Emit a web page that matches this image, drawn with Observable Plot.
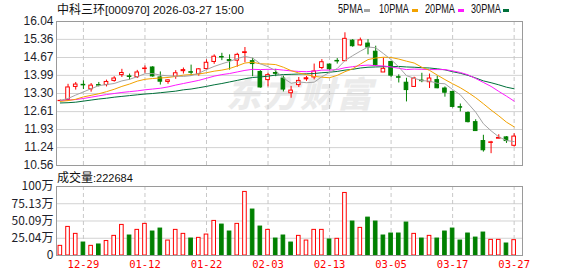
<!DOCTYPE html>
<html>
<head>
<meta charset="utf-8">
<script src="https://cdn.jsdelivr.net/npm/d3@7"></script>
<script src="https://cdn.jsdelivr.net/npm/@observablehq/plot@0.6"></script>
<style>
html, body { margin: 0; padding: 0; background: #fff; }
#wrap { position: relative; width: 578px; height: 276px; overflow: hidden; background: #fff;
  font-family: "Noto Sans CJK SC", "Liberation Sans", sans-serif; color: #111; }
.abs { position: absolute; white-space: nowrap; }
#title { left: 57px; top: 2px; font-size: 12px; line-height: 14px; }
#title .asc { font-family: "Liberation Sans", sans-serif; font-size: 11.5px; }
.leg { top: 2px; font-family: "Liberation Sans", sans-serif; font-size: 12px; line-height: 14px;
  transform: scaleX(0.76); transform-origin: 0 0; color: #111; }
.sw { top: 9px; width: 6px; height: 3px; }
#volLabel { left: 57px; top: 170px; font-size: 12px; line-height: 14px; }
#volLabel .asc { font-family: "Liberation Sans", sans-serif; font-size: 11px; }
#watermark { left: 226px; top: 72px; font-size: 35px; font-weight: 900; color: #ebebeb;
  font-style: italic; letter-spacing: 2px; line-height: 40px; }
#price, #vol { position: absolute; left: 0; }
#price { top: 0; }
#vol { top: 170px; }
</style>
</head>
<body>
<div id="wrap">
  <div id="watermark" class="abs">东方财富</div>
  <div id="price"></div>
  <div id="vol"></div>
  <div id="title" class="abs">中科三环<span class="asc">[000970] 2026-03-27 15:00</span></div>
  <div id="legend"></div>
  <div id="volLabel" class="abs">成交量<span class="asc">:222684</span></div>
</div>
<script>
// ---- data ----
const dates = ["12-24","12-25","12-26","12-29","12-30","12-31","01-05","01-06","01-07","01-08",
  "01-09","01-12","01-13","01-14","01-15","01-16","01-19","01-20","01-21","01-22",
  "01-23","01-26","01-27","01-28","01-29","01-30","02-02","02-03","02-04","02-05",
  "02-06","02-09","02-10","02-11","02-12","02-13","02-24","02-25","02-26","02-27",
  "03-02","03-03","03-04","03-05","03-06","03-09","03-10","03-11","03-12","03-13",
  "03-16","03-17","03-18","03-19","03-20","03-23","03-24","03-25","03-26","03-27"];

const open = [13.01,13.05,13.55,13.63,13.46,13.62,13.62,13.78,14.00,13.95,
  13.92,14.23,14.29,13.91,13.74,13.94,14.15,14.11,14.04,14.23,
  14.50,14.69,14.57,14.55,14.84,14.53,14.12,13.81,14.08,13.87,
  13.31,13.62,13.84,13.91,14.27,14.40,14.54,14.53,15.31,15.13,
  15.20,14.89,14.10,14.50,13.92,13.71,13.55,13.79,13.73,13.81,
  13.49,13.36,12.78,12.56,12.21,11.49,11.42,11.58,11.63,11.31];
const high = [13.05,13.65,13.72,13.78,13.68,13.72,13.81,13.94,14.22,14.04,
  14.18,14.35,14.32,14.12,13.82,14.17,14.27,14.38,14.25,14.58,
  14.77,14.83,14.77,14.83,15.05,14.64,14.17,14.07,14.22,13.96,
  13.57,13.91,13.95,14.42,14.59,14.42,14.63,15.61,15.35,15.41,
  15.35,15.10,14.65,14.53,14.01,13.88,13.92,14.07,14.04,13.96,
  13.55,13.39,12.90,12.60,12.30,11.71,11.48,11.73,11.66,11.77];
const low = [12.99,13.02,13.43,13.45,13.35,13.55,13.55,13.73,13.91,13.81,
  13.87,14.07,13.92,13.62,13.65,13.84,14.04,13.96,13.96,14.19,
  14.41,14.55,14.19,14.30,14.47,13.94,13.50,13.55,13.94,13.36,
  13.12,13.53,13.76,13.82,14.21,14.17,14.42,14.52,15.06,15.10,
  14.77,14.34,14.10,13.91,13.70,12.98,13.55,13.71,13.49,13.48,
  13.16,12.75,12.60,12.18,11.87,11.07,11.01,11.58,11.40,11.26];
const close = [13.02,13.53,13.64,13.61,13.60,13.60,13.74,13.87,14.08,13.93,
  14.10,14.25,13.95,13.75,13.80,14.07,14.19,14.09,14.22,14.47,
  14.70,14.67,14.54,14.77,14.87,14.42,13.53,14.00,14.05,13.45,
  13.41,13.78,13.88,14.14,14.49,14.22,14.52,15.38,15.10,15.32,
  15.05,14.37,14.24,13.98,13.90,13.43,13.87,13.77,13.87,13.50,
  13.33,12.79,12.76,12.21,11.87,11.14,11.44,11.61,11.49,11.66];

// volume in 万 shares, and its colour (1 = red/up, 0 = green/down)
const volume = [14.0,41.5,31.4,18.8,14.0,16.0,21.0,28.5,44.4,29.0,
  37.2,45.9,34.8,39.1,21.7,37.2,31.4,24.6,25.6,30.4,
  50.2,44.9,34.8,45.9,92.3,66.7,42.0,37.2,24.6,29.0,
  18.8,28.5,21.7,37.2,37.2,23.2,24.2,90.8,49.3,40.1,
  55.0,49.3,29.0,31.9,31.9,47.8,31.4,24.6,28.5,24.6,
  34.8,39.1,21.7,31.9,26.0,33.3,22.7,22.7,17.4,22.27];
const volUp = [1,1,1,0,1,0,1,1,1,0, 1,1,0,0,1,1,1,0,1,1,
  1,0,0,1,1,0,0,1,0,0, 0,1,1,1,1,0,1,1,0,1,
  0,0,0,0,0,0,1,0,1,0, 0,0,0,0,0,0,1,1,0,1];

const ma5 = [13.04,13.11,13.24,13.36,13.48,13.60,13.64,13.68,13.78,13.84,
  13.94,14.05,14.06,14.00,13.97,13.96,13.95,13.98,14.07,14.21,
  14.33,14.43,14.52,14.63,14.71,14.65,14.43,14.32,14.17,13.89,
  13.69,13.74,13.71,13.73,13.94,14.10,14.25,14.55,14.74,14.91,
  15.07,15.04,14.82,14.59,14.31,13.98,13.88,13.79,13.77,13.69,
  13.67,13.45,13.25,12.92,12.59,12.15,11.88,11.65,11.51,11.47];
const ma10 = [13.00,13.03,13.08,13.17,13.23,13.29,13.37,13.46,13.57,13.66,
  13.77,13.84,13.87,13.89,13.91,13.95,14.00,14.02,14.04,14.09,
  14.15,14.19,14.25,14.35,14.46,14.49,14.43,14.42,14.40,14.30,
  14.17,14.08,14.02,13.95,13.92,13.90,13.99,14.13,14.24,14.42,
  14.59,14.65,14.68,14.67,14.61,14.53,14.46,14.30,14.18,14.00,
  13.83,13.67,13.52,13.34,13.14,12.91,12.67,12.45,12.21,12.03];
const ma20 = [13.03,13.05,13.07,13.11,13.16,13.21,13.26,13.30,13.34,13.37,
  13.40,13.44,13.47,13.50,13.55,13.62,13.68,13.74,13.80,13.88,
  13.96,14.02,14.06,14.12,14.18,14.22,14.21,14.22,14.22,14.19,
  14.16,14.14,14.13,14.15,14.19,14.19,14.21,14.28,14.32,14.36,
  14.38,14.36,14.35,14.31,14.26,14.21,14.23,14.22,14.21,14.21,
  14.21,14.16,14.10,14.01,13.87,13.72,13.57,13.38,13.20,13.01];
const ma30 = [12.94,12.95,12.97,13.01,13.05,13.09,13.12,13.16,13.19,13.22,
  13.25,13.28,13.30,13.33,13.36,13.39,13.44,13.47,13.52,13.57,
  13.63,13.68,13.74,13.80,13.86,13.91,13.93,13.96,14.00,14.02,
  14.03,14.04,14.05,14.06,14.09,14.11,14.14,14.19,14.22,14.27,
  14.30,14.31,14.32,14.32,14.33,14.31,14.30,14.28,14.27,14.24,
  14.20,14.13,14.07,13.99,13.89,13.78,13.71,13.63,13.54,13.48];

const priceTicks = [16.04, 15.36, 14.67, 13.99, 13.30, 12.61, 11.93, 11.24, 10.56];
const volTicks = [0, 25.04, 50.09, 75.13, 100.17];
const volTickLabels = ["0", "25.04万", "50.09万", "75.13万", "100万"];
const dateTicks = ["12-29","01-12","01-22","02-03","02-13","03-05","03-17","03-27"];

const maNames = ["5PMA", "10PMA", "20PMA", "30PMA"];
const maColors = ["#a3a3a3", "#f2a200", "#ff1aff", "#00703a"];

// ---- build ----
const RED = "#ff0000", GREEN = "#008000";
const bars = dates.map((d, i) => ({
  date: d, open: open[i], high: high[i], low: low[i], close: close[i],
  vol: volume[i], volUp: volUp[i] === 1,
  ma5: ma5[i], ma10: ma10[i], ma20: ma20[i], ma30: ma30[i]
}));
const upBars = bars.filter(d => d.close >= d.open);
const downBars = bars.filter(d => d.close < d.open);

const xOpts = () => ({type: "band", domain: dates, range: [56, 517.5],
  paddingInner: 0.4, paddingOuter: 0.2, align: 0.5, round: false});
const font = "Liberation Sans, Arial, sans-serif";

const price = Plot.plot({
  width: 578, height: 175,
  marginTop: 21, marginBottom: 10, marginLeft: 56, marginRight: 56,
  style: {background: "transparent", fontFamily: font, overflow: "visible"},
  x: {...xOpts(), axis: null},
  y: {domain: [10.56, 16.04]},
  marks: [
    Plot.ruleY(priceTicks, {stroke: "#d2d2d2"}),
    Plot.ruleX(dateTicks, {stroke: "#c8c8c8", strokeDasharray: "4,3"}),
    Plot.ruleX(upBars, {x: "date", y1: "low", y2: "high", stroke: RED}),
    Plot.ruleX(downBars, {x: "date", y1: "low", y2: "high", stroke: GREEN}),
    Plot.barY(upBars, {x: "date", y1: "open", y2: "close", fill: "white", stroke: RED, insetLeft: 0.5, insetRight: 0.5}),
    Plot.barY(downBars, {x: "date", y1: "open", y2: "close", fill: GREEN, stroke: GREEN, insetLeft: 0.5, insetRight: 0.5}),
    Plot.line(bars, {x: "date", y: "ma30", stroke: maColors[3], strokeWidth: 1}),
    Plot.line(bars, {x: "date", y: "ma20", stroke: maColors[2], strokeWidth: 1}),
    Plot.line(bars, {x: "date", y: "ma10", stroke: maColors[1], strokeWidth: 1}),
    Plot.line(bars, {x: "date", y: "ma5", stroke: maColors[0], strokeWidth: 1}),
    Plot.frame({stroke: "#9a9a9a"}),
    Plot.axisY(priceTicks, {anchor: "left", tickSize: 0, tickPadding: 3, label: null,
      tickFormat: d => d.toFixed(2), fontSize: 12, fill: "#1e1e2a"})
  ]
});
document.getElementById("price").appendChild(price);

const vol = Plot.plot({
  width: 578, height: 106,
  marginTop: 16, marginBottom: 21, marginLeft: 56, marginRight: 56,
  style: {background: "transparent", fontFamily: font, overflow: "visible"},
  x: xOpts(),
  y: {domain: [0, 100.17]},
  marks: [
    Plot.ruleY(volTicks, {stroke: "#d2d2d2"}),
    Plot.ruleX(dateTicks, {stroke: "#c8c8c8", strokeDasharray: "4,3"}),
    Plot.barY(bars.filter(d => d.volUp), {x: "date", y: "vol", fill: "white", stroke: RED, insetLeft: 0.5, insetRight: 0.5}),
    Plot.barY(bars.filter(d => !d.volUp), {x: "date", y: "vol", fill: GREEN, stroke: GREEN, insetLeft: 0.5, insetRight: 0.5}),
    Plot.frame({stroke: "#9a9a9a"}),
    Plot.axisY(volTicks, {anchor: "left", tickSize: 0, tickPadding: 3, label: null,
      tickFormat: d => volTickLabels[volTicks.indexOf(d)], fontSize: 12, fill: "#1e1e2a",
      fontFamily: "Noto Sans CJK SC, Liberation Sans, sans-serif"}),
    Plot.axisX(dateTicks, {anchor: "bottom", tickSize: 0, tickPadding: 5, label: null,
      fontSize: 10.5, fill: RED, fontFamily: "DejaVu Sans Mono, monospace"})
  ]
});
document.getElementById("vol").appendChild(vol);

// legend
const legend = document.getElementById("legend");
const legX = [337.5, 378.7, 424.6, 470.6];
const swX = [364, 411.8, 457.7, 503];
maNames.forEach((name, i) => {
  const t = document.createElement("div");
  t.className = "abs leg";
  t.style.left = legX[i] + "px";
  t.textContent = name;
  legend.appendChild(t);
  const s = document.createElement("div");
  s.className = "abs sw";
  s.style.left = swX[i] + "px";
  s.style.background = maColors[i];
  legend.appendChild(s);
});
</script>
</body>
</html>
